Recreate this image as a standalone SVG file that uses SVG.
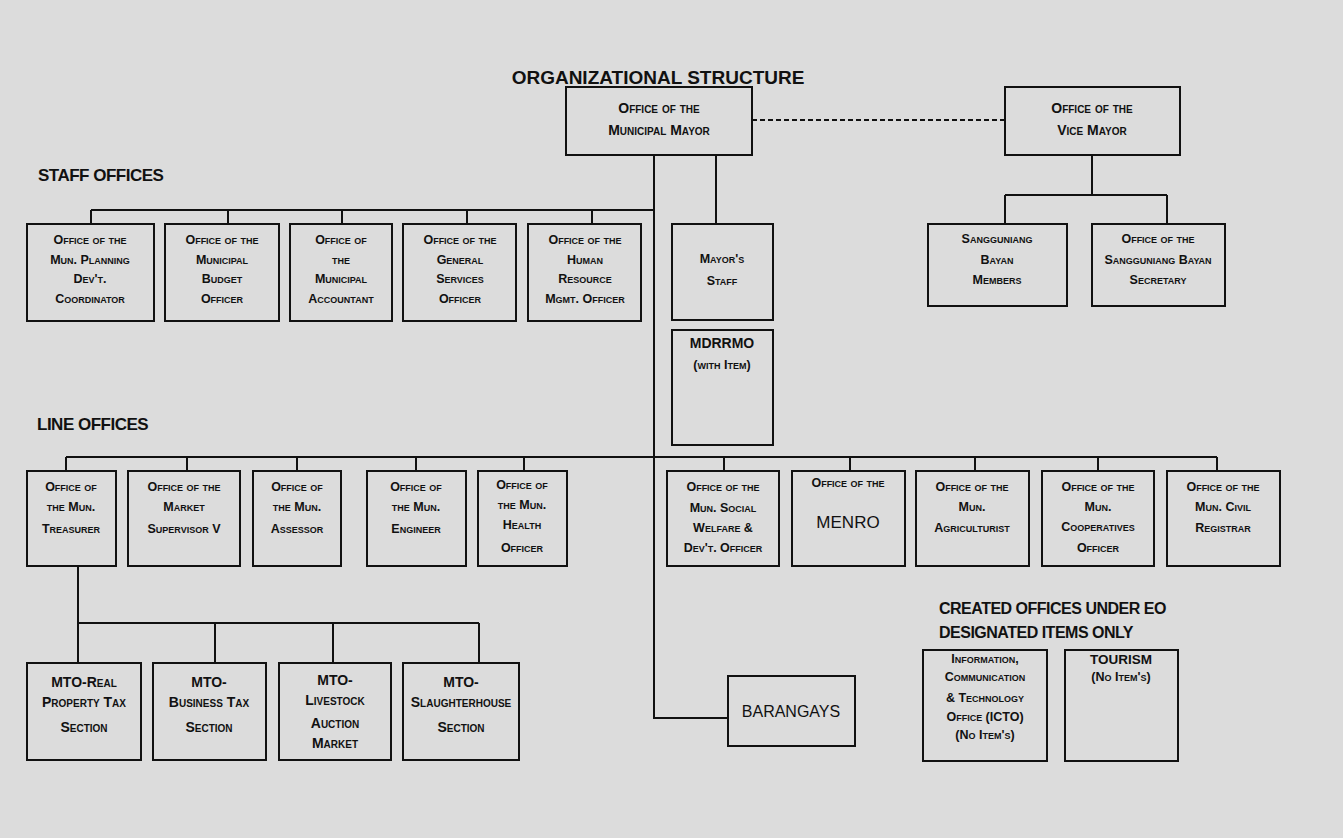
<svg xmlns="http://www.w3.org/2000/svg" width="1343" height="838" viewBox="0 0 1343 838">
<style>
.bg{fill:#dcdcdc}
.box{fill:#dcdcdc;stroke:#111;stroke-width:2}
.ln{stroke:#111;stroke-width:2;fill:none}
.t{font-family:"Liberation Sans",Arial,sans-serif;font-size:12.5px;font-weight:bold;font-variant:small-caps;text-anchor:middle;fill:#111}
.tm{font-family:"Liberation Sans",Arial,sans-serif;font-size:14px;font-weight:bold;font-variant:small-caps;text-anchor:middle;fill:#111}
.tr{font-family:"Liberation Sans",Arial,sans-serif;font-size:16px;text-anchor:middle;fill:#111}
.h{font-family:"Liberation Sans",Arial,sans-serif;font-size:17px;font-weight:bold;fill:#111;letter-spacing:-0.5px}
</style>
<rect class="bg" x="0" y="0" width="1343" height="838"/>
<text x="658" y="84" font-family="Liberation Sans, Arial, sans-serif" font-size="19" font-weight="bold" text-anchor="middle" fill="#111">ORGANIZATIONAL STRUCTURE</text>
<text class="h" x="38" y="181">STAFF OFFICES</text>
<text class="h" x="37" y="430">LINE OFFICES</text>
<text class="h" x="939" y="614" style="font-size:16px">CREATED OFFICES UNDER EO</text>
<text class="h" x="939" y="638" style="font-size:16px">DESIGNATED ITEMS ONLY</text>

<g id="connectors">
<line class="ln" x1="752" y1="120" x2="1005" y2="120" stroke-dasharray="5,3"/>
<polyline class="ln" points="654,155 654,718 728,718"/>
<line class="ln" x1="716" y1="155" x2="716" y2="224"/>
<line class="ln" x1="91" y1="210" x2="654" y2="210"/>
<line class="ln" x1="91" y1="210" x2="91" y2="224"/>
<line class="ln" x1="228" y1="210" x2="228" y2="224"/>
<line class="ln" x1="342" y1="210" x2="342" y2="224"/>
<line class="ln" x1="467" y1="210" x2="467" y2="224"/>
<line class="ln" x1="592" y1="210" x2="592" y2="224"/>
<line class="ln" x1="1092" y1="155" x2="1092" y2="195"/>
<line class="ln" x1="1005" y1="195" x2="1167" y2="195"/>
<line class="ln" x1="1005" y1="195" x2="1005" y2="224"/>
<line class="ln" x1="1167" y1="195" x2="1167" y2="224"/>
<line class="ln" x1="66" y1="457" x2="1217" y2="457"/>
<line class="ln" x1="66" y1="457" x2="66" y2="471"/>
<line class="ln" x1="187" y1="457" x2="187" y2="471"/>
<line class="ln" x1="297" y1="457" x2="297" y2="471"/>
<line class="ln" x1="416" y1="457" x2="416" y2="471"/>
<line class="ln" x1="524" y1="457" x2="524" y2="471"/>
<line class="ln" x1="724" y1="457" x2="724" y2="471"/>
<line class="ln" x1="850" y1="457" x2="850" y2="471"/>
<line class="ln" x1="975" y1="457" x2="975" y2="471"/>
<line class="ln" x1="1098" y1="457" x2="1098" y2="471"/>
<line class="ln" x1="1217" y1="457" x2="1217" y2="471"/>
<line class="ln" x1="78" y1="566" x2="78" y2="623"/>
<line class="ln" x1="78" y1="623" x2="479" y2="623"/>
<line class="ln" x1="215" y1="623" x2="215" y2="663"/>
<line class="ln" x1="333" y1="623" x2="333" y2="663"/>
<line class="ln" x1="479" y1="623" x2="479" y2="663"/>
<line class="ln" x1="78" y1="623" x2="78" y2="663"/>
</g>

<g id="mayor"><rect class="box" x="566" y="87" width="186" height="68"/>
<text class="tm" x="659" y="113">Office of the</text><text class="tm" x="659" y="135">Municipal Mayor</text></g>
<g id="vicemayor"><rect class="box" x="1005" y="87" width="175" height="68"/>
<text class="tm" x="1092" y="113">Office of the</text><text class="tm" x="1092" y="135">Vice Mayor</text></g>

<g id="s1"><rect class="box" x="27" y="224" width="127" height="97"/>
<text class="t" x="90" y="244">Office of the</text><text class="t" x="90" y="264">Mun. Planning</text><text class="t" x="90" y="283">Dev't.</text><text class="t" x="90" y="303">Coordinator</text></g>
<g id="s2"><rect class="box" x="165" y="224" width="114" height="97"/>
<text class="t" x="222" y="244">Office of the</text><text class="t" x="222" y="264">Municipal</text><text class="t" x="222" y="283">Budget</text><text class="t" x="222" y="303">Officer</text></g>
<g id="s3"><rect class="box" x="290" y="224" width="102" height="97"/>
<text class="t" x="341" y="244">Office of</text><text class="t" x="341" y="264">the</text><text class="t" x="341" y="283">Municipal</text><text class="t" x="341" y="303">Accountant</text></g>
<g id="s4"><rect class="box" x="403" y="224" width="113" height="97"/>
<text class="t" x="460" y="244">Office of the</text><text class="t" x="460" y="264">General</text><text class="t" x="460" y="283">Services</text><text class="t" x="460" y="303">Officer</text></g>
<g id="s5"><rect class="box" x="528" y="224" width="113" height="97"/>
<text class="t" x="585" y="244">Office of the</text><text class="t" x="585" y="264">Human</text><text class="t" x="585" y="283">Resource</text><text class="t" x="585" y="303">Mgmt. Officer</text></g>
<g id="mayorstaff"><rect class="box" x="672" y="224" width="101" height="96"/>
<text class="t" x="722" y="263">Mayor's</text><text class="t" x="722" y="285">Staff</text></g>
<g id="mdrrmo"><rect class="box" x="672" y="330" width="101" height="115"/>
<text class="tm" x="722" y="348">MDRRMO</text><text class="t" x="722" y="369">(with Item)</text></g>
<g id="sbm"><rect class="box" x="928" y="224" width="139" height="82"/>
<text class="t" x="997" y="243">Sangguniang</text><text class="t" x="997" y="264">Bayan</text><text class="t" x="997" y="284">Members</text></g>
<g id="sbs"><rect class="box" x="1092" y="224" width="133" height="82"/>
<text class="t" x="1158" y="243">Office of the</text><text class="t" x="1158" y="264">Sangguniang Bayan</text><text class="t" x="1158" y="284">Secretary</text></g>

<g id="l1"><rect class="box" x="27" y="471" width="89" height="95"/>
<text class="t" x="71" y="491">Office of</text><text class="t" x="71" y="511">the Mun.</text><text class="t" x="71" y="533">Treasurer</text></g>
<g id="l2"><rect class="box" x="128" y="471" width="112" height="95"/>
<text class="t" x="184" y="491">Office of the</text><text class="t" x="184" y="511">Market</text><text class="t" x="184" y="533">Supervisor V</text></g>
<g id="l3"><rect class="box" x="253" y="471" width="88" height="95"/>
<text class="t" x="297" y="491">Office of</text><text class="t" x="297" y="511">the Mun.</text><text class="t" x="297" y="533">Assessor</text></g>
<g id="l4"><rect class="box" x="367" y="471" width="99" height="95"/>
<text class="t" x="416" y="491">Office of</text><text class="t" x="416" y="511">the Mun.</text><text class="t" x="416" y="533">Engineer</text></g>
<g id="l5"><rect class="box" x="478" y="471" width="89" height="95"/>
<text class="t" x="522" y="489">Office of</text><text class="t" x="522" y="509">the Mun.</text><text class="t" x="522" y="529">Health</text><text class="t" x="522" y="552">Officer</text></g>
<g id="l6"><rect class="box" x="667" y="471" width="112" height="95"/>
<text class="t" x="723" y="491">Office of the</text><text class="t" x="723" y="512">Mun. Social</text><text class="t" x="723" y="532">Welfare &amp;</text><text class="t" x="723" y="552">Dev't. Officer</text></g>
<g id="l7"><rect class="box" x="792" y="471" width="113" height="95"/>
<text class="t" x="848" y="487">Office of the</text><text class="tr" x="848" y="528" style="font-size:17px">MENRO</text></g>
<g id="l8"><rect class="box" x="916" y="471" width="113" height="95"/>
<text class="t" x="972" y="491">Office of the</text><text class="t" x="972" y="511">Mun.</text><text class="t" x="972" y="532">Agriculturist</text></g>
<g id="l9"><rect class="box" x="1042" y="471" width="112" height="95"/>
<text class="t" x="1098" y="491">Office of the</text><text class="t" x="1098" y="511">Mun.</text><text class="t" x="1098" y="531">Cooperatives</text><text class="t" x="1098" y="552">Officer</text></g>
<g id="l10"><rect class="box" x="1167" y="471" width="113" height="95"/>
<text class="t" x="1223" y="491">Office of the</text><text class="t" x="1223" y="511">Mun. Civil</text><text class="t" x="1223" y="532">Registrar</text></g>

<g id="m1"><rect class="box" x="27" y="663" width="114" height="97"/>
<text class="tm" x="84" y="687">MTO-Real</text><text class="tm" x="84" y="707">Property Tax</text><text class="tm" x="84" y="732">Section</text></g>
<g id="m2"><rect class="box" x="153" y="663" width="113" height="97"/>
<text class="tm" x="209" y="687">MTO-</text><text class="tm" x="209" y="707">Business Tax</text><text class="tm" x="209" y="732">Section</text></g>
<g id="m3"><rect class="box" x="279" y="663" width="112" height="97"/>
<text class="tm" x="335" y="685">MTO-</text><text class="tm" x="335" y="705">Livestock</text><text class="tm" x="335" y="728">Auction</text><text class="tm" x="335" y="748">Market</text></g>
<g id="m4"><rect class="box" x="403" y="663" width="116" height="97"/>
<text class="tm" x="461" y="687">MTO-</text><text class="tm" x="461" y="707">Slaughterhouse</text><text class="tm" x="461" y="732">Section</text></g>

<g id="barangays"><rect class="box" x="728" y="676" width="127" height="70"/>
<text class="tr" x="791" y="717">BARANGAYS</text></g>

<g id="icto"><rect class="box" x="923" y="650" width="124" height="111"/>
<text class="t" x="985" y="663">Information,</text><text class="t" x="985" y="681">Communication</text><text class="t" x="985" y="702">&amp; Technology</text><text class="t" x="985" y="721">Office (ICTO)</text><text class="t" x="985" y="739">(No Item's)</text></g>
<g id="tourism"><rect class="box" x="1065" y="650" width="113" height="111"/>
<text class="t" x="1121" y="664" style="font-size:13.5px">TOURISM</text><text class="t" x="1121" y="681">(No Item's)</text></g>
</svg>
